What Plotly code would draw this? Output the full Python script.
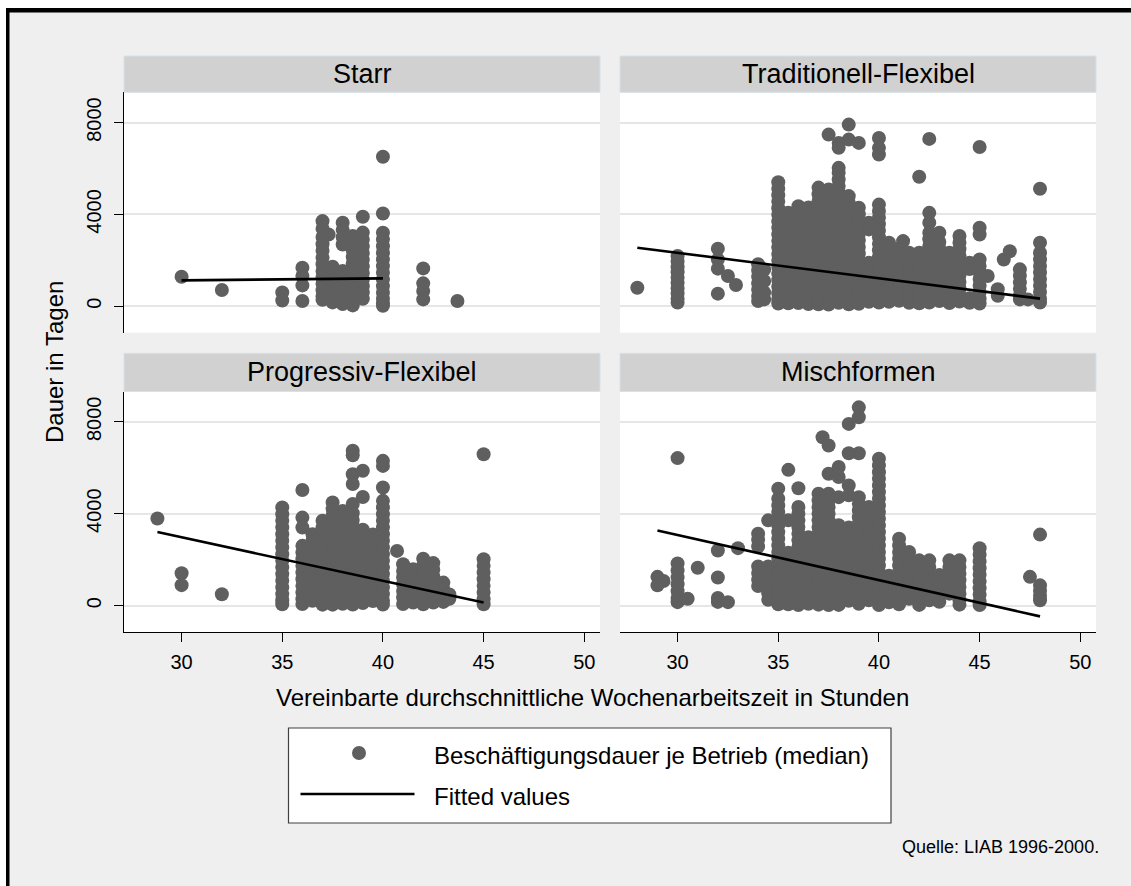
import plotly.graph_objects as go

W, H = 1131, 886

def px(x):
    return x / W

def py(y):
    return 1 - y / H

# ---------------- data ----------------
panel_titles = ["Starr", "Traditionell-Flexibel", "Progressiv-Flexibel", "Mischformen"]

starr_hours = [30, 32, 35, 36, 37, 37.3, 37.5, 38, 38.5, 39, 40, 42, 43.7]
starr_days = [
    [1290],
    [710],
    [600, 250],
    [1680, 1320, 910, 230],
    [3710, 3380, 3020, 2700, 2420, 2110, 1830, 1540, 1260, 980, 700, 430, 280],
    [3130],
    [1720, 1380, 1020, 700, 420, 170],
    [3640, 3330, 3010, 2690, 1540, 1230, 940, 650, 380, 100],
    [3060, 2760, 2440, 2150, 1860, 1570, 1280, 990, 720, 450, 180, 40],
    [3900, 3210, 2900, 2610, 2320, 2030, 1740, 1450, 1160, 870, 600, 330],
    [6510, 4040, 3200, 2910, 2620, 2330, 2040, 1750, 1460, 1170, 880, 590, 330, 120, 20],
    [1650, 1000, 670, 300],
    [230],
]
starr_fit_x = [30, 40]
starr_fit_y = [1130, 1217]

trad_hours = [28, 30, 32, 32.5, 32.9, 34, 34.3, 35, 35.5, 36, 36.5, 37, 37.5, 38, 38.5, 39,
              39.5, 40, 40.5, 41, 41.2, 41.5, 42, 42.5, 43, 43.5, 44, 44.5, 45, 45.4, 45.9,
              46.2, 46.5, 47, 47.4, 48]
trad_days = [
    [810],
    [2190, 1950, 1700, 1480, 1250, 1010, 780, 560, 330, 160],
    [2510, 2040, 1640, 550],
    [1320],
    [930],
    [1830, 1560, 1290, 1000, 720, 450, 230],
    [1600, 1100, 600, 300],
    [5400, 5120, 4840, 4560, 4270, 3990, 3700, 3420, 3130, 2850, 2560, 2280, 1990, 1710, 1420, 1140, 850, 570, 300, 120],
    [4070, 3780, 3500, 3210, 2930, 2640, 2360, 2070, 1790, 1500, 1220, 930, 650, 360, 130],
    [4360, 4080, 3790, 3510, 3220, 2940, 2650, 2370, 2080, 1800, 1510, 1230, 940, 660, 370, 140],
    [4300, 4010, 3730, 3440, 3160, 2870, 2590, 2300, 2020, 1730, 1450, 1160, 880, 590, 310, 100],
    [5170, 4880, 4590, 4300, 4020, 3730, 3450, 3160, 2880, 2590, 2310, 2020, 1740, 1450, 1170, 880, 600, 310, 90],
    [7478, 5090, 4800, 4520, 4230, 3950, 3660, 3380, 3090, 2810, 2520, 2240, 1950, 1670, 1380, 1100, 810, 530, 240, 80],
    [7116, 6900, 6029, 5820, 5520, 5240, 4950, 4670, 4380, 4100, 3810, 3530, 3240, 2960, 2670, 2390, 2100, 1820, 1530, 1250, 960, 680, 390, 150],
    [7913, 7260, 4800, 4510, 4230, 3940, 3660, 3370, 3090, 2800, 2520, 2230, 1950, 1660, 1380, 1090, 810, 520, 240, 90],
    [7116, 4290, 4010, 3720, 3440, 3150, 2870, 2580, 2300, 2010, 1730, 1440, 1160, 870, 590, 300, 110],
    [3640, 3350, 1900, 1620, 1330, 1050, 760, 480, 200],
    [7330, 6900, 6609, 4430, 4150, 3860, 3580, 3290, 3010, 2720, 2440, 2150, 1870, 1580, 1300, 1010, 730, 440, 160],
    [2770, 2480, 2200, 1910, 1630, 1340, 1060, 770, 490, 200],
    [2520, 2230, 1950, 1660, 1380, 1090, 810, 520, 240],
    [2840],
    [2330, 2050, 1760, 1480, 1190, 910, 620, 340, 150],
    [5640, 2330, 2040, 1760, 1470, 1190, 900, 620, 330, 130],
    [7290, 4070, 3640, 3200, 2920, 2630, 2350, 2060, 1780, 1490, 1210, 920, 640, 350, 160],
    [3200, 2800, 2510, 2220, 1940, 1650, 1370, 1080, 800, 510, 230],
    [2330, 2050, 1760, 1480, 1190, 910, 620, 340, 140],
    [3060, 2770, 2490, 2200, 1920, 1630, 1350, 1060, 780, 490, 210],
    [1900, 1620, 350, 150],
    [6940, 3420, 3130, 2040, 1760, 1470, 1190, 900, 620, 330, 120],
    [1320],
    [740, 460],
    [2040],
    [2400],
    [1610, 1330, 1040, 760, 470, 300],
    [300],
    [5120, 2770, 2330, 2040, 1760, 1470, 1190, 900, 620, 330, 160],
]
trad_fit_x = [28, 48]
trad_fit_y = [2550, 335]

prog_hours = [28.8, 30, 32, 35, 36, 36.5, 37, 37.5, 38, 38.5, 39, 39.5, 40, 40.7, 41, 41.5,
              42, 42.5, 43, 43.3, 45]
prog_days = [
    [3790],
    [1410, 890],
    [495],
    [4270, 3980, 3690, 3400, 3110, 2820, 2530, 2240, 1950, 1660, 1370, 1080, 790, 500, 230, 60],
    [5030, 3830, 3400, 2600, 2310, 2020, 1730, 1440, 1150, 860, 570, 280, 70],
    [3110, 2820, 2530, 2240, 1950, 1660, 1370, 1080, 790, 500, 210],
    [3690, 3400, 3110, 2820, 2530, 2240, 1950, 1660, 1370, 1080, 790, 500, 210, 40],
    [4490, 4200, 3910, 3620, 3330, 3040, 2750, 2460, 2170, 1880, 1590, 1300, 1010, 720, 430, 140, 40],
    [4120, 3830, 3540, 3250, 2960, 2670, 2380, 2090, 1800, 1510, 1220, 930, 640, 350, 80],
    [6740, 6540, 5720, 5290, 4420, 4020, 3730, 3440, 3150, 2860, 2570, 2280, 1990, 1700, 1410, 1120, 830, 540, 250, 50],
    [5870, 4730, 3300, 3010, 2720, 2430, 2140, 1850, 1560, 1270, 980, 690, 400, 110],
    [3100, 2810, 2520, 2230, 1940, 1650, 1360, 1070, 780, 490, 200],
    [6300, 6080, 5140, 4560, 4270, 3980, 3690, 3400, 3110, 2820, 2530, 2240, 1950, 1660, 1370, 1080, 790, 500, 210, 50],
    [2380],
    [1800, 1510, 1220, 930, 640, 350, 70],
    [1580, 1290, 1000, 710, 420, 130],
    [2040, 1750, 1460, 1170, 880, 590, 300, 60],
    [1850, 1560, 1270, 980, 690, 400, 130],
    [1000, 720, 430, 160],
    [480, 300],
    [6590, 2020, 1730, 1440, 1150, 860, 570, 280, 60],
]
prog_fit_x = [28.8, 45]
prog_fit_y = [3200, 130]

misch_hours = [29, 29.3, 30, 30.5, 31, 32, 32.5, 33, 34, 34.5, 35, 35.5, 36, 36.5, 37, 37.2,
               37.5, 38, 38.5, 39, 39.5, 40, 40.5, 41, 41.5, 42, 42.5, 43, 43.5, 44, 45, 47.5, 48]
misch_days = [
    [1250, 880],
    [1070],
    [6420, 1830, 1530, 1230, 930, 630, 330, 150],
    [300],
    [1650],
    [2400, 1220, 330, 160],
    [150],
    [2500],
    [3130, 2870, 2570, 1700, 1420, 1130, 850],
    [3710, 1700, 1410, 1120, 830, 540, 250],
    [5090, 4650, 4360, 4070, 3780, 3490, 3200, 2910, 2620, 2330, 2040, 1750, 1460, 1170, 880, 590, 300, 60],
    [5910, 3710, 2300, 2010, 1720, 1430, 1140, 850, 560, 270, 60],
    [5110, 4290, 4000, 3710, 3420, 3130, 2840, 2550, 2260, 1970, 1680, 1390, 1100, 810, 520, 230, 20],
    [2980, 2690, 2400, 2110, 1820, 1530, 1240, 950, 660, 370, 80],
    [4870, 4580, 4290, 4000, 3710, 3420, 3130, 2840, 2550, 2260, 1970, 1680, 1390, 1100, 810, 520, 230, 40],
    [7330],
    [6970, 5740, 4870, 4580, 4290, 4000, 3710, 3420, 3130, 2840, 2550, 2260, 1970, 1680, 1390, 1100, 810, 520, 230, 20],
    [6030, 5600, 4720, 3500, 3210, 2920, 2630, 2340, 2050, 1760, 1470, 1180, 890, 600, 310, 30],
    [7910, 6630, 5230, 4800, 3400, 3110, 2820, 2530, 2240, 1950, 1660, 1370, 1080, 790, 500, 210],
    [8630, 8200, 6630, 4720, 4430, 4140, 3850, 3560, 3270, 2980, 2690, 2400, 2110, 1820, 1530, 1240, 950, 660, 370, 80],
    [4290, 4000, 3710, 3420, 3130, 2840, 2550, 2260, 1970, 1680, 1390, 1100, 810, 520, 230],
    [6390, 6100, 5810, 5520, 5230, 4940, 4650, 4360, 4070, 3780, 3490, 3200, 2910, 2620, 2330, 2040, 1750, 1460, 1170, 880, 590, 300, 20],
    [1300, 1010, 720, 430, 140],
    [2910, 2620, 2330, 2040, 1750, 1460, 1170, 880, 590, 300, 60],
    [2330, 2040, 1750, 1460, 1170, 880, 590, 300],
    [1970, 1680, 1390, 1100, 810, 520, 230, 30],
    [1970, 1680, 1390, 1100, 810, 520, 230],
    [1330, 1040, 750, 460, 170],
    [1970, 1680, 1390, 1100, 810, 520],
    [1970, 1680, 1390, 1100, 810, 520, 230, 40],
    [2500, 2210, 1920, 1630, 1340, 1050, 760, 470, 180, 20],
    [1250],
    [3090, 880, 650, 430, 230],
]
misch_fit_x = [29, 48]
misch_fit_y = [3270, -470]

x_ticks = [30, 35, 40, 45, 50]
y_ticks = [0, 4000, 8000]
legend_labels = ["Beschäftigungsdauer je Betrieb (median)", "Fitted values"]
x_title = "Vereinbarte durchschnittliche Wochenarbeitszeit in Stunden"
y_title = "Dauer in Tagen"
note = "Quelle: LIAB 1996-2000."

# ---------------- styling / layout ----------------
FONT = "Liberation Sans, Arial, Helvetica, sans-serif"
DOT = "#5f5f5f"
X_RANGE = [27.14, 50.78]
Y_RANGE = [-1150, 9320]

col_px = [(124, 600), (620, 1096)]
row_px = [(92.3, 332.7), (391.5, 632)]
strip_px = [(56, 92.3), (353.3, 391.5)]

panels = [
    (starr_hours, starr_days, starr_fit_x, starr_fit_y),
    (trad_hours, trad_days, trad_fit_x, trad_fit_y),
    (prog_hours, prog_days, prog_fit_x, prog_fit_y),
    (misch_hours, misch_days, misch_fit_x, misch_fit_y),
]

fig = go.Figure()
layout = {}
shapes = []
annotations = []

for i, (hours, days, fx, fy) in enumerate(panels):
    row, col = divmod(i, 2)
    sfx = "" if i == 0 else str(i + 1)
    xs, ys = [], []
    for h, colvals in zip(hours, days):
        xs += [h] * len(colvals)
        ys += colvals
    fig.add_trace(go.Scatter(
        x=xs, y=ys, mode="markers",
        marker=dict(size=14, color=DOT, line=dict(width=0)),
        xaxis="x" + sfx, yaxis="y" + sfx, showlegend=False, hoverinfo="skip"))
    fig.add_trace(go.Scatter(
        x=fx, y=fy, mode="lines", line=dict(color="black", width=2.6),
        xaxis="x" + sfx, yaxis="y" + sfx, showlegend=False, hoverinfo="skip"))

    x0, x1 = col_px[col]
    t0, t1 = row_px[row]
    bottom = row == 1
    left = col == 0
    layout["xaxis" + sfx] = dict(
        domain=[px(x0), px(x1)], range=X_RANGE, anchor="y" + sfx,
        showgrid=False, zeroline=False, tickvals=x_ticks,
        showticklabels=bottom, ticks="outside" if bottom else "",
        ticklen=9, tickwidth=1.3, tickcolor="black", ticklabelstandoff=3,
        showline=bottom, linecolor="black", linewidth=1.3,
        tickfont=dict(family=FONT, size=20, color="black"),
    )
    layout["yaxis" + sfx] = dict(
        domain=[py(t1), py(t0)], range=Y_RANGE, anchor="x" + sfx,
        showgrid=True, gridcolor="#e6e6e6", gridwidth=2, zeroline=False,
        tickvals=y_ticks, showticklabels=left, ticks="outside" if left else "",
        ticklen=9, tickwidth=1.3, tickcolor="black", tickangle=-90, ticklabelstandoff=5,
        showline=left, linecolor="black", linewidth=1.3,
        tickfont=dict(family=FONT, size=20, color="black"),
    )
    s0, s1 = strip_px[row]
    shapes.append(dict(type="rect", xref="paper", yref="paper",
                       x0=px(x0), x1=px(x1), y0=py(s1), y1=py(s0),
                       fillcolor="#d1d1d1", line=dict(color="#d5e2e8", width=1)))
    annotations.append(dict(text=panel_titles[i], xref="paper", yref="paper",
                            x=px((x0 + x1) / 2), y=py((s0 + s1) / 2),
                            xanchor="center", yanchor="middle", showarrow=False,
                            font=dict(family=FONT, size=27, color="black")))

# outer frame: white outside, thick black top/left border
shapes += [
    dict(type="rect", xref="paper", yref="paper", x0=0, x1=1, y0=py(8), y1=1,
         fillcolor="white", line=dict(width=0), layer="below"),
    dict(type="rect", xref="paper", yref="paper", x0=0, x1=px(6), y0=0, y1=1,
         fillcolor="white", line=dict(width=0), layer="below"),
    dict(type="rect", xref="paper", yref="paper", x0=px(6), x1=1, y0=py(12.5), y1=py(8),
         fillcolor="black", line=dict(width=0)),
    dict(type="rect", xref="paper", yref="paper", x0=px(6), x1=px(9.5), y0=0, y1=py(8),
         fillcolor="black", line=dict(width=0)),
]

# legend box
shapes += [
    dict(type="rect", xref="paper", yref="paper", x0=px(288.5), x1=px(891), y0=py(823), y1=py(728),
         fillcolor="white", line=dict(color="#404040", width=1.2)),
    dict(type="circle", xref="paper", yref="paper", x0=px(352), x1=px(366), y0=py(760), y1=py(746),
         fillcolor=DOT, line=dict(width=0)),
    dict(type="line", xref="paper", yref="paper", x0=px(300.5), x1=px(414.5), y0=py(794), y1=py(794),
         line=dict(color="black", width=2.6)),
]

annotations += [
    dict(text=legend_labels[0], xref="paper", yref="paper", x=px(432), y=py(755),
         xanchor="left", yanchor="middle", showarrow=False,
         font=dict(family=FONT, size=24, color="black")),
    dict(text=legend_labels[1], xref="paper", yref="paper", x=px(432), y=py(796),
         xanchor="left", yanchor="middle", showarrow=False,
         font=dict(family=FONT, size=24, color="black")),
    dict(text=x_title, xref="paper", yref="paper", x=px(592), y=py(697),
         xanchor="center", yanchor="middle", showarrow=False,
         font=dict(family=FONT, size=24, color="black")),
    dict(text=y_title, xref="paper", yref="paper", x=px(55), y=py(362),
         xanchor="center", yanchor="middle", showarrow=False, textangle=-90,
         font=dict(family=FONT, size=24, color="black")),
    dict(text=note, xref="paper", yref="paper", x=px(1101), y=py(846.5),
         xanchor="right", yanchor="middle", showarrow=False,
         font=dict(family=FONT, size=18, color="black")),
]

fig.update_layout(
    width=W, height=H,
    margin=dict(l=0, r=0, t=0, b=0, pad=0),
    paper_bgcolor="#efefef", plot_bgcolor="white",
    showlegend=False, hovermode=False,
    shapes=shapes, annotations=annotations,
    **layout,
)

fig.write_html("out.html")
